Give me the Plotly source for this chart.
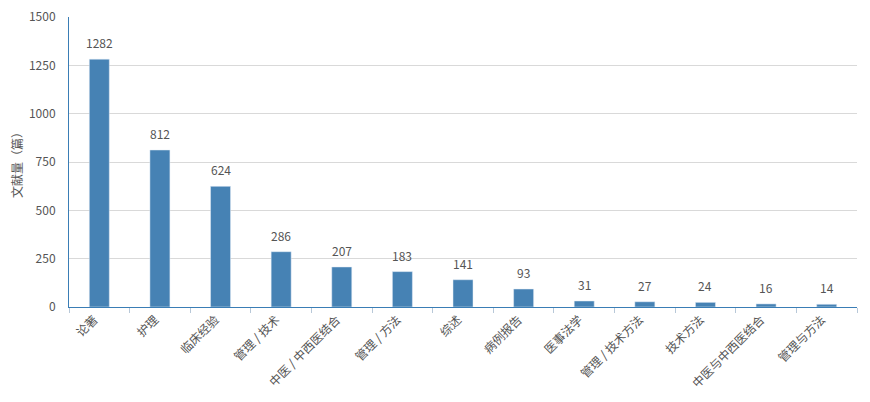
import plotly.graph_objects as go

categories = ["论著", "护理", "临床经验", "管理 / 技术", "中医 / 中西医结合", "管理 / 方法", "综述",
              "病例报告", "医事法学", "管理 / 技术方法", "技术方法", "中医与中西医结合", "管理与方法"]
values = [1282, 812, 624, 286, 207, 183, 141, 93, 31, 27, 24, 16, 14]
y_ticks = [0, 250, 500, 750, 1000, 1250, 1500]

font_family = "Noto Sans CJK SC, Noto Sans, sans-serif"
bar_color = "#4682B4"
axis_color = "#3a7db5"

fig = go.Figure()
fig.add_trace(go.Bar(x=categories, y=values, marker_color=bar_color, width=0.33,
                     hoverinfo="x+y"))

for c, v in zip(categories, values):
    fig.add_annotation(x=c, y=v, text=str(v), showarrow=False, yanchor="bottom",
                       yshift=6, font=dict(size=12, color="#555", family=font_family))

fig.update_layout(
    width=854, height=386,
    margin=dict(l=61, r=5, t=9, b=87, autoexpand=False),
    plot_bgcolor="white", paper_bgcolor="white",
    font=dict(family=font_family, size=12, color="#555"),
    showlegend=False,
    xaxis=dict(type="category", tickangle=-45, tickson="boundaries", ticks="outside",
               ticklen=5, tickcolor="#b8c8d8", showline=True, linecolor=axis_color,
               linewidth=1, showgrid=False, tickfont=dict(size=12, color="#555"),
               automargin=False, ticklabelshift=-5, ticklabeloverflow="allow"),
    yaxis=dict(range=[0, 1500], tickvals=y_ticks, showline=True, linecolor=axis_color,
               linewidth=1, gridcolor="#d9d9d9", zeroline=False, ticks="",
               tickfont=dict(size=12, color="#555"), automargin=False,
               ticklabelstandoff=10, ticklabeloverflow="allow",
               title=dict(text="文献量（篇）", font=dict(size=12, color="#555"), standoff=6)),
)

fig.write_html("out.html")
